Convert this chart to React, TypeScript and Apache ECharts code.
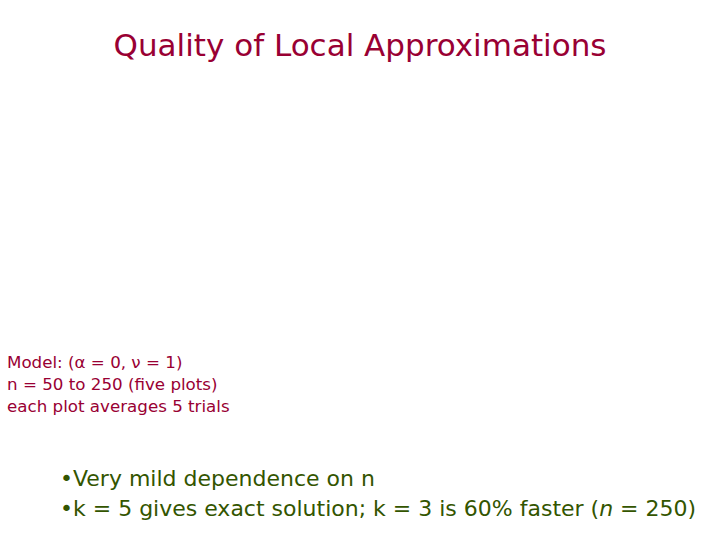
import { useEffect, useRef } from 'react';
import * as echarts from 'echarts';

const TITLE = 'Quality of Local Approximations';
const MODEL_LINES = ['Model: (α = 0, ν = 1)', 'n = 50 to 250 (five plots)', 'each plot averages 5 trials'];
// {i|...} marks the italic parts
const BULLETS = ['Very mild dependence on n', 'k = 5 gives exact solution; k = 3 is 60% faster ({i|n} = 250)'];

const FONT = "'DejaVu Sans', sans-serif";
const RED = '#990033';
const GREEN = '#335500';

export default function App() {
  const chartRef = useRef<HTMLDivElement>(null);

  useEffect(() => {
    document.body.style.margin = '0';
    if (!chartRef.current) return;
    const chart = echarts.init(chartRef.current, undefined, { renderer: 'svg' });

    const modelTexts = MODEL_LINES.map((line, i) => ({
      type: 'text',
      left: 7,
      top: 353 + i * 22,
      style: { text: line, fill: RED, fontFamily: FONT, fontSize: 16.7 },
    }));

    const bulletTexts = BULLETS.map((line, i) => ({
      type: 'text',
      left: 60,
      top: 467 + i * 30,
      style: {
        text: '•' + line,
        fill: GREEN,
        fontFamily: FONT,
        fontSize: 22,
        rich: { i: { fontStyle: 'italic', fontFamily: FONT, fontSize: 22, fill: GREEN } },
      },
    }));

    chart.setOption({
      animation: false,
      backgroundColor: '#ffffff',
      title: {
        text: TITLE,
        left: 'center',
        top: 24,
        textStyle: { color: RED, fontSize: 31, fontWeight: 'normal', fontFamily: FONT },
      },
      graphic: [...modelTexts, ...bulletTexts],
    });

    return () => chart.dispose();
  }, []);

  return <div ref={chartRef} style={{ width: 720, height: 540 }} />;
}
